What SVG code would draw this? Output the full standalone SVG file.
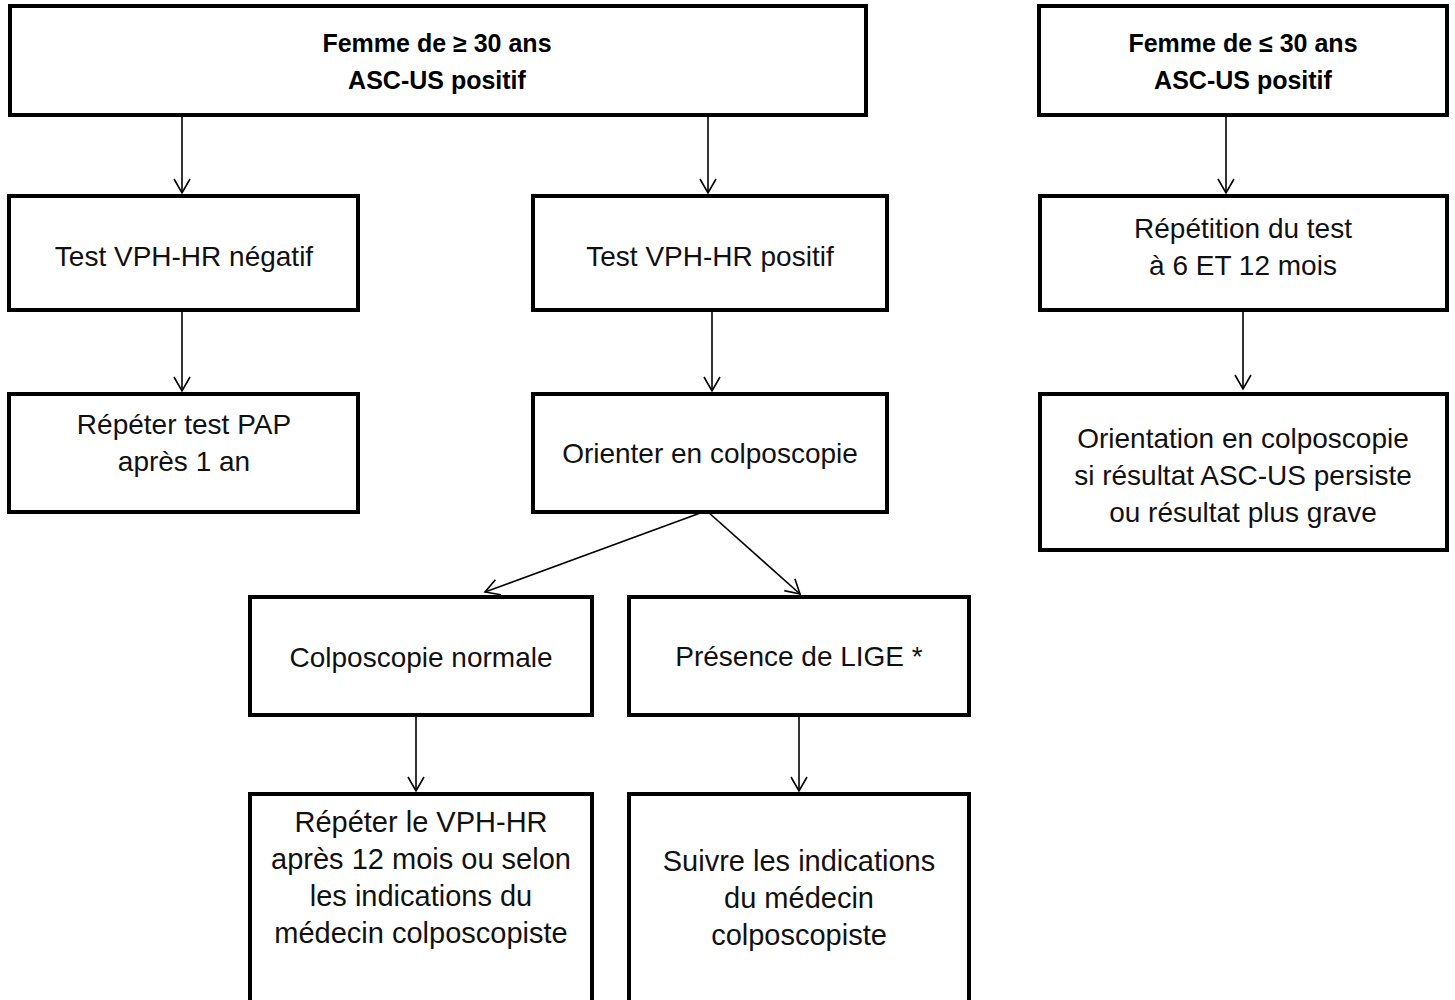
<svg xmlns="http://www.w3.org/2000/svg" width="1455" height="1000" viewBox="0 0 1455 1000">
<style>
.box{fill:#fff;stroke:#000;stroke-width:4}
.t{font-family:"Liberation Sans",Arial,sans-serif;font-size:28px;fill:#111;text-anchor:middle}
.b{font-family:"Liberation Sans",Arial,sans-serif;font-size:25px;font-weight:bold;fill:#000;text-anchor:middle}
.tb{font-family:"Liberation Sans",Arial,sans-serif;font-size:29px;fill:#111;text-anchor:middle}
.c{fill:none;stroke:#000;stroke-width:1.6}
</style>
<defs>
<marker id="ah" markerUnits="userSpaceOnUse" markerWidth="30" markerHeight="30" viewBox="-20 -15 30 30" refX="0" refY="0" orient="auto">
<path d="M-14,-8 L0,0 L-14,8" fill="none" stroke="#000" stroke-width="1.6"/>
</marker>
</defs>
<rect width="1455" height="1000" fill="#fff"/>
<g id="connectors">
<line class="c" x1="182" y1="117" x2="182" y2="193" marker-end="url(#ah)"/>
<line class="c" x1="708" y1="117" x2="708" y2="193" marker-end="url(#ah)"/>
<line class="c" x1="1226" y1="117" x2="1226" y2="193" marker-end="url(#ah)"/>
<line class="c" x1="182" y1="312" x2="182" y2="391" marker-end="url(#ah)"/>
<line class="c" x1="712" y1="312" x2="712" y2="391" marker-end="url(#ah)"/>
<line class="c" x1="1243" y1="312" x2="1243" y2="389" marker-end="url(#ah)"/>
<line class="c" x1="703" y1="512" x2="485" y2="592" marker-end="url(#ah)"/>
<line class="c" x1="708" y1="512" x2="800" y2="594" marker-end="url(#ah)"/>
<line class="c" x1="416" y1="717" x2="416" y2="791" marker-end="url(#ah)"/>
<line class="c" x1="799" y1="717" x2="799" y2="791" marker-end="url(#ah)"/>
</g>
<g id="n1"><rect class="box" x="10" y="6" width="856" height="109"/>
<text class="b" x="437" y="52">Femme de ≥ 30 ans</text><text class="b" x="437" y="89">ASC-US positif</text></g>
<g id="n2"><rect class="box" x="1039" y="6" width="408" height="109"/>
<text class="b" x="1243" y="52">Femme de ≤ 30 ans</text><text class="b" x="1243" y="89">ASC-US positif</text></g>
<g id="n3"><rect class="box" x="9" y="196" width="349" height="114"/>
<text class="t" x="184" y="266">Test VPH-HR négatif</text></g>
<g id="n4"><rect class="box" x="533" y="196" width="354" height="114"/>
<text class="t" x="710" y="266">Test VPH-HR positif</text></g>
<g id="n5"><rect class="box" x="1040" y="196" width="407" height="114"/>
<text class="t" x="1243" y="238">Répétition du test</text><text class="t" x="1243" y="275">à 6 ET 12 mois</text></g>
<g id="n6"><rect class="box" x="9" y="394" width="349" height="118"/>
<text class="t" x="184" y="434">Répéter test PAP</text><text class="t" x="184" y="471">après 1 an</text></g>
<g id="n7"><rect class="box" x="533" y="394" width="354" height="118"/>
<text class="t" x="710" y="463">Orienter en colposcopie</text></g>
<g id="n8"><rect class="box" x="1040" y="394" width="407" height="156"/>
<text class="t" x="1243" y="448">Orientation en colposcopie</text><text class="t" x="1243" y="485">si résultat ASC-US persiste</text><text class="t" x="1243" y="522">ou résultat plus grave</text></g>
<g id="n9"><rect class="box" x="250" y="597" width="342" height="118"/>
<text class="t" x="421" y="667">Colposcopie normale</text></g>
<g id="n10"><rect class="box" x="629" y="597" width="340" height="118"/>
<text class="t" x="799" y="666">Présence de LIGE *</text></g>
<g id="n11"><rect class="box" x="250" y="794" width="342" height="220"/>
<text class="tb" x="421" y="832">Répéter le VPH-HR</text><text class="tb" x="421" y="869">après 12 mois ou selon</text><text class="tb" x="421" y="906">les indications du</text><text class="tb" x="421" y="943">médecin colposcopiste</text></g>
<g id="n12"><rect class="box" x="629" y="794" width="340" height="220"/>
<text class="tb" x="799" y="871">Suivre les indications</text><text class="tb" x="799" y="908">du médecin</text><text class="tb" x="799" y="945">colposcopiste</text></g>
</svg>
